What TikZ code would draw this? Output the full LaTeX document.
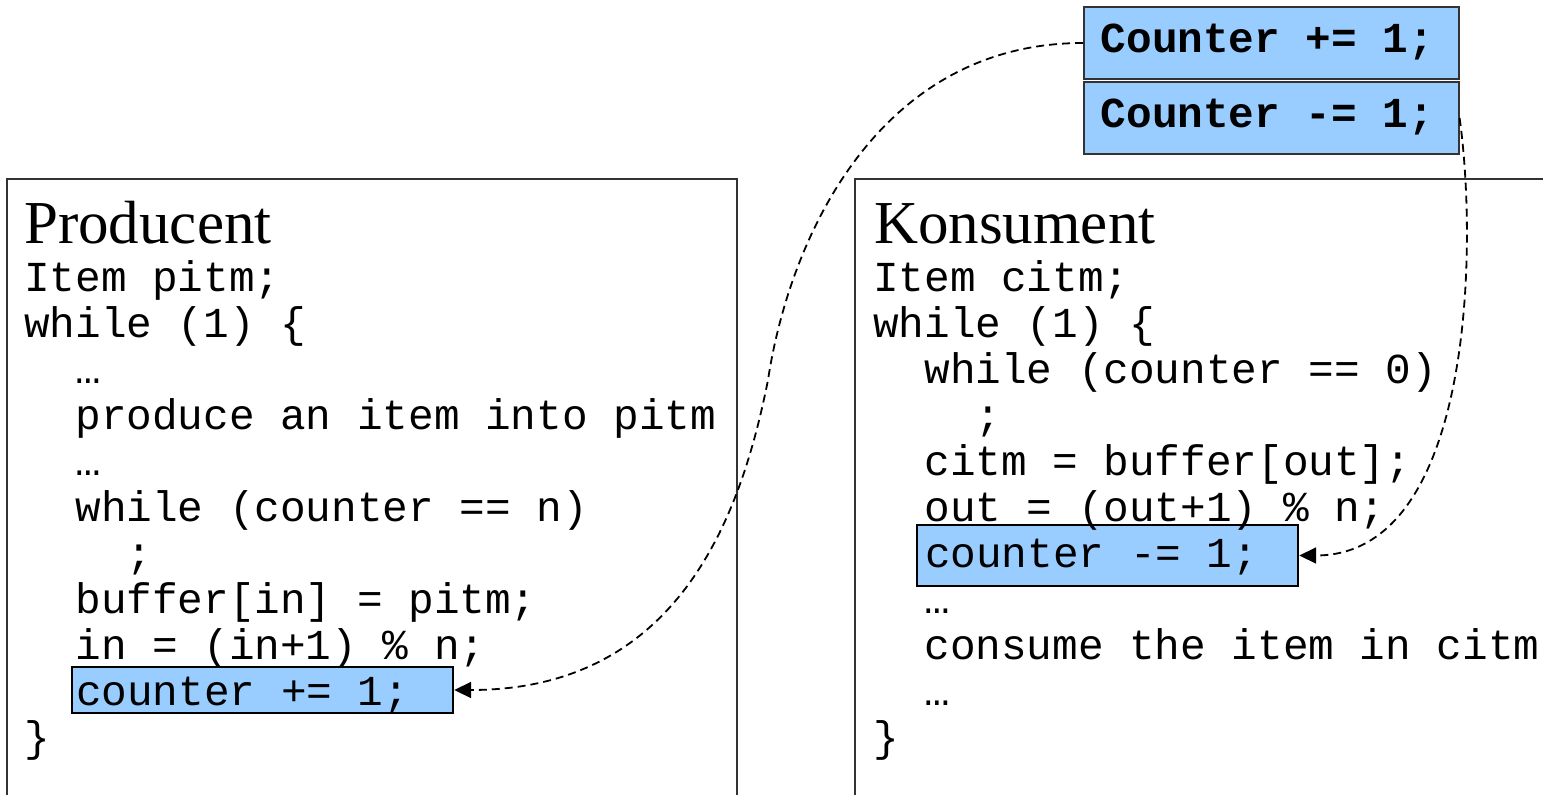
\documentclass[tikz,border=0pt]{standalone}
\usepackage{fontspec}
\setmainfont{Liberation Serif}
\setmonofont{Liberation Mono}
\usetikzlibrary{arrows.meta}
\definecolor{hlblue}{HTML}{99CCFF}

\begin{document}
\begin{tikzpicture}[x=1pt,y=-1pt,
    code/.style={anchor=base west,inner sep=0pt,font=\ttfamily\fontsize{42.7}{46}\selectfont},
    title/.style={anchor=base west,inner sep=0pt,font=\fontsize{61}{61}\selectfont},
    hl/.style={draw=black,line width=2.2pt,fill=hlblue,anchor=base west,inner ysep=0pt,align=flush left,
        font=\ttfamily\fontsize{42.7}{46}\selectfont},
    op/.style={draw=black!80,line width=1.6pt,fill=hlblue,anchor=base west,inner xsep=17pt,inner ysep=0pt,
        text width=341pt,text height=45pt,text depth=27pt,align=flush left,
        font=\ttfamily\bfseries\fontsize{42.7}{46}\selectfont},
    link/.style={dash pattern=on 8pt off 5pt,line width=1.8pt,-{Triangle[length=17pt,width=16pt]}}]
    \useasboundingbox (0,0) rectangle (1543,795);

    % Frames (open at the bottom):
    \draw [line width=1.2pt,black!80] (7,795) |- (737,179) -- (737,795);
    \draw [line width=1.2pt,black!80] (855,795) |- (1543,179);

    % The two operations at the top:
    \node [op] (inc) at (1083,52) {Counter += 1;};
    \node [op] (dec) at (1083,127) {Counter -= 1;};

    % Highlighted lines:
    \node [hl,inner xsep=4pt,text width=373pt,text height=38pt,text depth=8pt] (prodinc) at (71,705) {counter += 1;};
    \node [hl,inner xsep=8pt,text width=365pt,text height=42pt,text depth=19pt] (consdec) at (916,567) {counter -= 1;};

    % Producent:
    \node [title] (ptitle) at (24,243) {Producent};
    \foreach \l/\ind/\txt in {0/0/{Item pitm;},1/0/{while (1) \{},2/2/{…},3/2/{produce an item into pitm},
        4/2/{…},5/2/{while (counter == n)},6/4/{;},7/2/{buffer[in] = pitm;},8/2/{in = (in+1) \% n;},10/0/{\}}}
        \node [code] (p\l) at ({24+\ind*25.6},{291+\l*46}) {\txt};

    % Konsument:
    \node [title] (ktitle) at (874,243) {Konsument};
    \foreach \l/\ind/\txt in {0/0/{Item citm;},1/0/{while (1) \{},2/2/{while (counter == 0)},3/4/{;},
        4/2/{citm = buffer[out];},5/2/{out = (out+1) \% n;},7/2/{…},8/2/{consume the item in citm},
        9/2/{…},10/0/{\}}}
        \node [code] (k\l) at ({873+\ind*25.6},{291+\l*46}) {\txt};

    % Connectors:
    \coordinate (bend) at (768,380);
    \draw [link] (inc.west) .. controls +(-203,0) and (790,235) .. (bend)
        .. controls (742,510) and +(228,0) .. (prodinc.east);
    \draw [link] (dec.east) .. controls (1478,250) and +(173,0) .. (consdec.east);
\end{tikzpicture}
\end{document}
